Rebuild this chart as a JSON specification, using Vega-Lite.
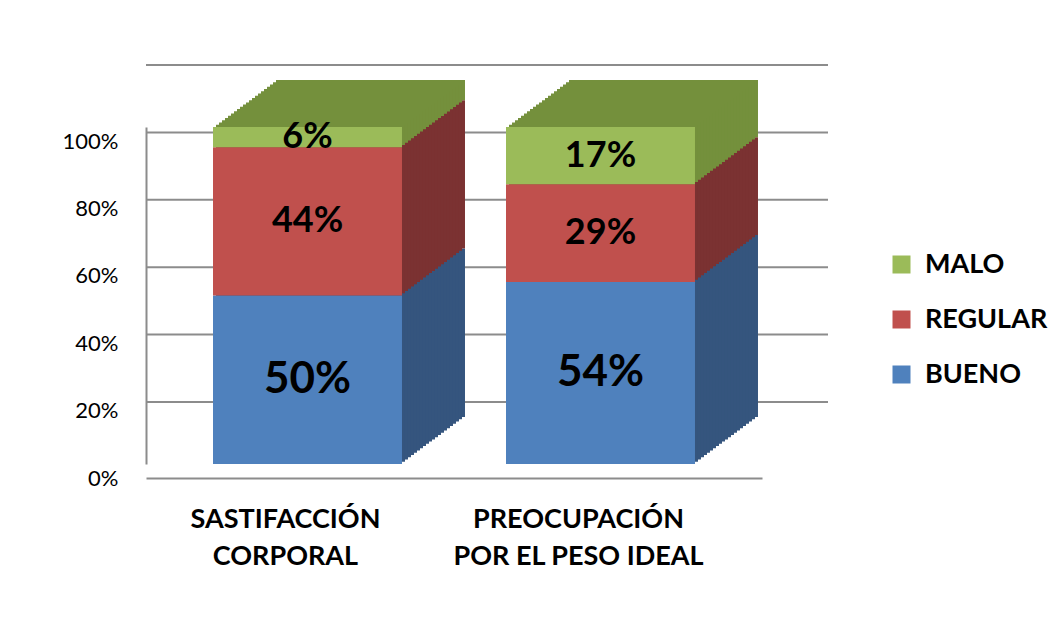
{
  "$schema": "https://vega.github.io/schema/vega-lite/v6.json",
  "width": 682,
  "height": 337,
  "autosize": {"type": "none"},
  "padding": {"left": 146, "top": 127, "right": 232, "bottom": 153},
  "background": "#ffffff",
  "config": {
    "font": "Lato",
    "view": {"stroke": null},
    "axis": {"ticks": false, "grid": false, "domainColor": "#8c8c8c", "domainWidth": 2, "labelFont": "Lato", "labelColor": "#000000"},
    "legend": {"orient": "none", "legendX": 742, "legendY": 124, "symbolType": "square", "symbolSize": 324, "symbolStrokeWidth": 0, "symbolOpacity": 1, "labelFont": "Lato", "labelFontSize": 27, "labelFontWeight": "bold", "labelColor": "#000000", "rowPadding": 27, "labelOffset": 10, "padding": 0}
  },
  "layer": [
    {
      "data": {"values": [{"g": 0}, {"g": 0.2}, {"g": 0.4}, {"g": 0.6}, {"g": 0.8}, {"g": 1}]},
      "mark": {"type": "rule", "yOffset": -62, "color": "#8c8c8c", "strokeWidth": 2},
      "encoding": {
        "y": {"field": "g", "type": "quantitative", "scale": {"domain": [0, 1]}, "title": null,
              "axis": {"values": [0, 0.2, 0.4, 0.6, 0.8, 1], "format": ".0%", "labelOffset": 14, "labelPadding": 28, "labelFontSize": 22, "title": null}}
      }
    },
    {
      "data": {"values": [
        {"categoria": "SASTIFACCIÓN CORPORAL", "nivel": "BUENO", "valor": 0.50, "orden": 1},
        {"categoria": "SASTIFACCIÓN CORPORAL", "nivel": "REGULAR", "valor": 0.44, "orden": 2},
        {"categoria": "SASTIFACCIÓN CORPORAL", "nivel": "MALO", "valor": 0.06, "orden": 3},
        {"categoria": "PREOCUPACIÓN POR EL PESO IDEAL", "nivel": "BUENO", "valor": 0.54, "orden": 1},
        {"categoria": "PREOCUPACIÓN POR EL PESO IDEAL", "nivel": "REGULAR", "valor": 0.29, "orden": 2},
        {"categoria": "PREOCUPACIÓN POR EL PESO IDEAL", "nivel": "MALO", "valor": 0.17, "orden": 3}
      ]},
      "transform": [
        {"stack": "valor", "groupby": ["categoria"], "sort": [{"field": "orden", "order": "ascending"}], "as": ["v0", "v1"]}
      ],
      "encoding": {
        "x": {"field": "categoria", "type": "nominal", "sort": ["SASTIFACCIÓN CORPORAL", "PREOCUPACIÓN POR EL PESO IDEAL"],
              "scale": {"range": [0, 616], "paddingInner": 0.355, "paddingOuter": 0.2287}, "title": null,
              "axis": {"title": null, "labelAngle": 0, "offset": 14, "labelPadding": 28, "labelFontSize": 27, "labelFontWeight": "bold", "labelLineHeight": 37, "labelOffset": -22, "labelBaseline": "top", "labelLimit": 500,
                       "labelExpr": "datum.value == 'SASTIFACCIÓN CORPORAL' ? ['SASTIFACCIÓN', 'CORPORAL'] : ['PREOCUPACIÓN', 'POR EL PESO IDEAL']"}},
        "y": {"field": "v0", "type": "quantitative", "scale": {"domain": [0, 1]}, "title": null,
              "axis": {"values": [0, 0.2, 0.4, 0.6, 0.8, 1], "format": ".0%", "labelOffset": 14, "labelPadding": 28, "labelFontSize": 22, "title": null}}
      },
      "layer": [
        {
          "encoding": {
            "y2": {"field": "v1"},
            "color": {"field": "nivel", "type": "nominal", "legend": null,
                      "scale": {"domain": ["MALO", "REGULAR", "BUENO"], "range": ["#74903c", "#7b3232", "#35557e"]}}
          },
          "layer": [
            {"mark": {"type": "bar", "xOffset": 63, "yOffset": -47, "y2Offset": -47}},
            {"mark": {"type": "bar", "xOffset": 60, "yOffset": -44.76, "y2Offset": -44.76}},
            {"mark": {"type": "bar", "xOffset": 57, "yOffset": -42.52, "y2Offset": -42.52}},
            {"mark": {"type": "bar", "xOffset": 54, "yOffset": -40.29, "y2Offset": -40.29}},
            {"mark": {"type": "bar", "xOffset": 51, "yOffset": -38.05, "y2Offset": -38.05}},
            {"mark": {"type": "bar", "xOffset": 48, "yOffset": -35.81, "y2Offset": -35.81}},
            {"mark": {"type": "bar", "xOffset": 45, "yOffset": -33.57, "y2Offset": -33.57}},
            {"mark": {"type": "bar", "xOffset": 42, "yOffset": -31.33, "y2Offset": -31.33}},
            {"mark": {"type": "bar", "xOffset": 39, "yOffset": -29.10, "y2Offset": -29.10}},
            {"mark": {"type": "bar", "xOffset": 36, "yOffset": -26.86, "y2Offset": -26.86}},
            {"mark": {"type": "bar", "xOffset": 33, "yOffset": -24.62, "y2Offset": -24.62}},
            {"mark": {"type": "bar", "xOffset": 30, "yOffset": -22.38, "y2Offset": -22.38}},
            {"mark": {"type": "bar", "xOffset": 27, "yOffset": -20.14, "y2Offset": -20.14}},
            {"mark": {"type": "bar", "xOffset": 24, "yOffset": -17.90, "y2Offset": -17.90}},
            {"mark": {"type": "bar", "xOffset": 21, "yOffset": -15.67, "y2Offset": -15.67}},
            {"mark": {"type": "bar", "xOffset": 18, "yOffset": -13.43, "y2Offset": -13.43}},
            {"mark": {"type": "bar", "xOffset": 15, "yOffset": -11.19, "y2Offset": -11.19}},
            {"mark": {"type": "bar", "xOffset": 12, "yOffset": -8.95, "y2Offset": -8.95}},
            {"mark": {"type": "bar", "xOffset": 9, "yOffset": -6.71, "y2Offset": -6.71}},
            {"mark": {"type": "bar", "xOffset": 6, "yOffset": -4.48, "y2Offset": -4.48}},
            {"mark": {"type": "bar", "xOffset": 3, "yOffset": -2.24, "y2Offset": -2.24}}
          ]
        },
        {
          "mark": {"type": "bar"},
          "encoding": {
            "y2": {"field": "v1"},
            "color": {"field": "nivel", "type": "nominal", "title": null,
                      "scale": {"domain": ["MALO", "REGULAR", "BUENO"], "range": ["#9bbb59", "#c0504d", "#4f81bd"]}}
          }
        },
        {
          "mark": {"type": "text", "font": "Lato", "fontWeight": "bold", "color": "#000000", "baseline": "middle", "align": "center",
                   "dy": {"expr": "(scale('y', datum.v1) - scale('y', datum.v0)) / 2"}},
          "encoding": {
            "text": {"field": "valor", "type": "quantitative", "format": ".0%"},
            "size": {"condition": {"test": "datum.nivel === 'BUENO'", "value": 44}, "value": 36}
          }
        }
      ],
      "resolve": {"scale": {"color": "independent"}}
    }
  ]
}
